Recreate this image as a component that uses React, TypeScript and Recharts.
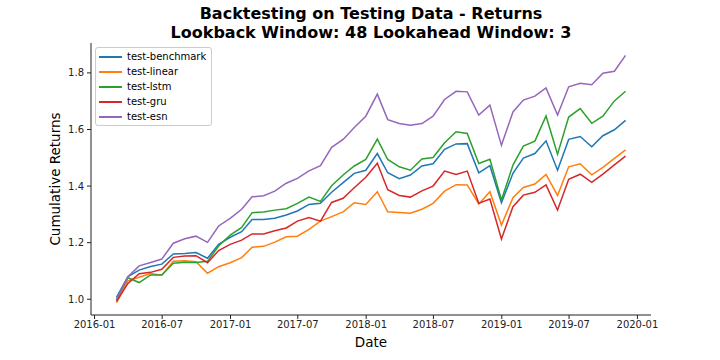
import React from 'react';
import { LineChart, Line, XAxis, YAxis } from 'recharts';

const FONT = '"DejaVu Sans", Verdana, sans-serif';

// month-end dates of the test period
const dates = [
  '2016-02-29', '2016-03-31', '2016-04-30', '2016-05-31', '2016-06-30', '2016-07-31',
  '2016-08-31', '2016-09-30', '2016-10-31', '2016-11-30', '2016-12-31',
  '2017-01-31', '2017-02-28', '2017-03-31', '2017-04-30', '2017-05-31', '2017-06-30',
  '2017-07-31', '2017-08-31', '2017-09-30', '2017-10-31', '2017-11-30', '2017-12-31',
  '2018-01-31', '2018-02-28', '2018-03-31', '2018-04-30', '2018-05-31', '2018-06-30',
  '2018-07-31', '2018-08-31', '2018-09-30', '2018-10-31', '2018-11-30', '2018-12-31',
  '2019-01-31', '2019-02-28', '2019-03-31', '2019-04-30', '2019-05-31', '2019-06-30',
  '2019-07-31', '2019-08-31', '2019-09-30', '2019-10-31', '2019-11-30',
];

const benchmark = [
  1.007, 1.080, 1.103, 1.116, 1.124, 1.160, 1.162, 1.165, 1.145, 1.194, 1.219,
  1.239, 1.282, 1.282, 1.286, 1.298, 1.312, 1.335, 1.339, 1.378, 1.412, 1.445,
  1.456, 1.515, 1.447, 1.426, 1.439, 1.471, 1.479, 1.530, 1.549, 1.550, 1.447,
  1.472, 1.341, 1.445, 1.499, 1.515, 1.560, 1.456, 1.565, 1.575, 1.539, 1.578,
  1.599, 1.632,
];
const linear = [
  0.988, 1.065, 1.078, 1.091, 1.085, 1.134, 1.136, 1.133, 1.092, 1.115, 1.129,
  1.147, 1.184, 1.187, 1.202, 1.221, 1.223, 1.247, 1.276, 1.292, 1.309, 1.341,
  1.335, 1.380, 1.309, 1.307, 1.304, 1.318, 1.339, 1.382, 1.405, 1.404, 1.337,
  1.380, 1.262, 1.359, 1.395, 1.407, 1.441, 1.367, 1.468, 1.479, 1.440, 1.466,
  1.498, 1.528,
];
const lstm = [
  0.998, 1.076, 1.059, 1.086, 1.086, 1.127, 1.131, 1.130, 1.134, 1.188, 1.227,
  1.254, 1.306, 1.308, 1.315, 1.320, 1.339, 1.361, 1.346, 1.401, 1.439, 1.471,
  1.494, 1.566, 1.494, 1.468, 1.456, 1.496, 1.501, 1.553, 1.592, 1.586, 1.480,
  1.495, 1.351, 1.474, 1.541, 1.559, 1.648, 1.513, 1.644, 1.674, 1.622, 1.647,
  1.701, 1.735,
];
const gru = [
  0.992, 1.056, 1.090, 1.095, 1.106, 1.148, 1.153, 1.154, 1.129, 1.172, 1.194,
  1.209, 1.231, 1.231, 1.242, 1.252, 1.276, 1.289, 1.276, 1.342, 1.357, 1.394,
  1.431, 1.481, 1.387, 1.367, 1.361, 1.383, 1.400, 1.453, 1.441, 1.453, 1.339,
  1.354, 1.213, 1.327, 1.368, 1.378, 1.404, 1.315, 1.424, 1.442, 1.413, 1.442,
  1.475, 1.506,
];
const esn = [
  1.000, 1.080, 1.118, 1.130, 1.142, 1.198, 1.214, 1.223, 1.201, 1.259, 1.286,
  1.318, 1.362, 1.366, 1.382, 1.410, 1.427, 1.454, 1.472, 1.537, 1.565, 1.607,
  1.647, 1.725, 1.635, 1.621, 1.615, 1.621, 1.647, 1.706, 1.735, 1.733, 1.651,
  1.686, 1.544, 1.662, 1.704, 1.718, 1.747, 1.651, 1.751, 1.763, 1.758, 1.799,
  1.806, 1.862,
];

const xTickLabels = [
  '2016-01', '2016-07', '2017-01', '2017-07', '2018-01',
  '2018-07', '2019-01', '2019-07', '2020-01',
];
const yTicks = [1.0, 1.2, 1.4, 1.6, 1.8];

const series = [
  { key: 'benchmark', name: 'test-benchmark', color: '#1f77b4', values: benchmark },
  { key: 'linear', name: 'test-linear', color: '#ff7f0e', values: linear },
  { key: 'lstm', name: 'test-lstm', color: '#2ca02c', values: lstm },
  { key: 'gru', name: 'test-gru', color: '#d62728', values: gru },
  { key: 'esn', name: 'test-esn', color: '#9467bd', values: esn },
];

const toTime = (s: string) => {
  const [y, m, d] = s.split('-').map(Number);
  return Date.UTC(y, m - 1, d || 1);
};

const data = dates.map((d, i) => {
  const row: Record<string, number> = { t: toTime(d) };
  series.forEach(s => { row[s.key] = s.values[i]; });
  return row;
});

// matplotlib-style 5% margins
const tMin = toTime(dates[0]);
const tMax = toTime(dates[dates.length - 1]);
const xPad = (tMax - tMin) * 0.05;
const allVals = series.flatMap(s => s.values);
const vMin = Math.min(...allVals);
const vMax = Math.max(...allVals);
const yPad = (vMax - vMin) * 0.05;

const fmtDate = (t: number) => {
  const d = new Date(t);
  return `${d.getUTCFullYear()}-${String(d.getUTCMonth() + 1).padStart(2, '0')}`;
};

const LegendBox = () => (
  <div style={{
    position: 'absolute', left: 95, top: 47, zIndex: 2,
    background: 'rgba(255,255,255,0.8)', border: '1px solid #cccccc',
    borderRadius: 3, padding: '1px 5px 1px 3px', fontFamily: FONT, fontSize: 10, color: '#000',
  }}>
    {series.map(s => (
      <div key={s.key} style={{ display: 'flex', alignItems: 'center', height: 15 }}>
        <span style={{ display: 'inline-block', width: 23, borderTop: `2px solid ${s.color}`, marginRight: 5 }} />
        {s.name}
      </div>
    ))}
  </div>
);

const App: React.FC = () => {
  const axisStyle = { fontSize: 10, fill: '#222', fontFamily: FONT };
  const titleStyle: React.CSSProperties = {
    position: 'absolute', left: 71, width: 600, height: 16, textAlign: 'center',
    fontFamily: FONT, fontWeight: 'bold', fontSize: 16, lineHeight: '16px', color: '#000',
  };
  return (
    <div style={{ position: 'absolute', left: 0, top: 0, width: 720, height: 360, background: '#fff' }}>
      <div style={{ ...titleStyle, top: 6 }}>Backtesting on Testing Data - Returns</div>
      <div style={{ ...titleStyle, top: 25 }}>Lookback Window: 48 Lookahead Window: 3</div>
      <div style={{
        position: 'absolute', left: 55, top: 179, width: 240, textAlign: 'center',
        transform: 'translate(-50%, -50%) rotate(-90deg)',
        fontFamily: FONT, fontSize: 13.5, lineHeight: '16px', color: '#000',
      }}>
        Cumulative Returns
      </div>
      <div style={{
        position: 'absolute', left: 271, top: 334, width: 200, textAlign: 'center',
        fontFamily: FONT, fontSize: 13.5, lineHeight: '16px', color: '#000',
      }}>
        Date
      </div>
      <LineChart width={720} height={360} data={data} margin={{ top: 43, right: 69, bottom: 0, left: 0 }}>
        <XAxis
          dataKey="t"
          type="number"
          domain={[tMin - xPad, tMax + xPad]}
          allowDataOverflow
          ticks={xTickLabels.map(toTime)}
          tickFormatter={fmtDate}
          height={45}
          tickSize={4}
          tickMargin={2}
          tick={axisStyle}
          stroke="#222"
          interval={0}
        />
        <YAxis
          type="number"
          domain={[vMin - yPad, vMax + yPad]}
          allowDataOverflow
          ticks={yTicks}
          tickFormatter={(v: number) => v.toFixed(1)}
          width={91}
          tickSize={4}
          tickMargin={3}
          tick={axisStyle}
          stroke="#222"
          interval={0}
        />
        {series.map(s => (
          <Line
            key={s.key}
            dataKey={s.key}
            name={s.name}
            stroke={s.color}
            strokeWidth={1.5}
            dot={false}
            type="linear"
            isAnimationActive={false}
          />
        ))}
      </LineChart>
      <LegendBox />
    </div>
  );
};

export default App;
